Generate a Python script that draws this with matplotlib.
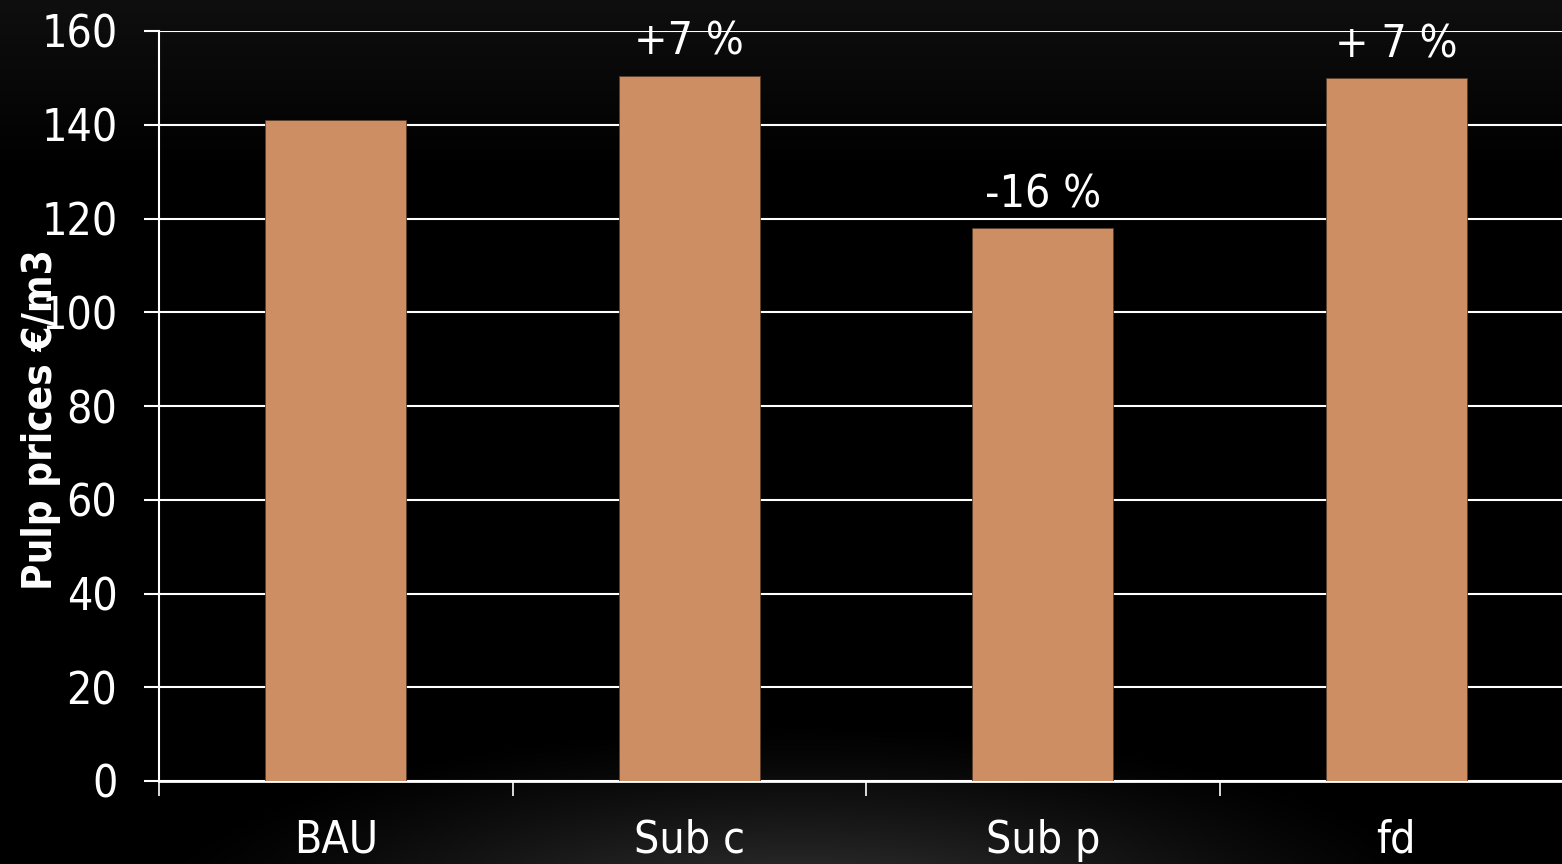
import numpy as np
import matplotlib
matplotlib.use("Agg")
import matplotlib.pyplot as plt
from matplotlib import font_manager as fm

categories = ["BAU", "Sub c", "Sub p", "fd"]
values = [141, 150.5, 118, 150]
labels = ["", "+7 %", "-16 %", "+ 7 %"]
yticks = [0, 20, 40, 60, 80, 100, 120, 140, 160]

# pick a narrow font if one is installed
names = {f.name for f in fm.fontManager.ttflist}
cond = [f for f in fm.fontManager.ttflist
        if f.name == "DejaVu Sans" and str(f.stretch) in ("condensed", "semi-condensed", "75", "87")]
if "Liberation Sans Narrow" in names:
    FAM, STRETCH = "Liberation Sans Narrow", "normal"
elif cond:
    FAM, STRETCH = "DejaVu Sans", "condensed"
else:
    FAM, STRETCH = "Liberation Sans", "normal"
plt.rcParams["font.family"] = [FAM, "DejaVu Sans"]
plt.rcParams["font.stretch"] = STRETCH

W, H = 1562, 864
fig = plt.figure(figsize=(W / 100, H / 100), dpi=100, facecolor="black")

# background gradient
bg = fig.add_axes([0, 0, 1, 1], zorder=-10)
yy, xx = np.mgrid[0:H, 0:W]
top = 15 * np.clip(1 - yy / 170.0, 0, 1)
r = np.sqrt(((xx - 800) / 680.0) ** 2 + ((yy - 930) / 210.0) ** 2)
bottom = 62 * np.clip(1 - r, 0, 1) ** 1.3
img = np.clip(top + bottom, 0, 255) / 255.0
bg.imshow(np.dstack([img, img, img]), aspect="auto", extent=[0, W, H, 0])
bg.set_axis_off()

ax = fig.add_axes([159 / W, (H - 781) / H, (1573 - 159) / W, (781 - 31) / H])
ax.set_facecolor("none")
x = np.arange(len(categories))
ax.bar(x, values, width=0.4, color="#CD8E64", edgecolor="#5a3e2a",
       linewidth=0.6, zorder=3)

FS = 32
for xi, v, lab in zip(x, values, labels):
    if lab:
        ax.annotate(lab, (xi, v), xytext=(0, 15), textcoords="offset points",
                    ha="center", va="baseline", color="white", fontsize=FS,
                    fontstretch=STRETCH, zorder=5)

ax.set_xlim(-0.5, 3.5)
ax.set_ylim(0, 160)
ax.set_yticks(yticks)
ax.yaxis.grid(True, color="white", linewidth=1.5, zorder=0)
ax.set_axisbelow(True)

ax.set_xticks(x)
ax.set_xticklabels(categories)
ax.set_xticks([-0.5, 0.5, 1.5, 2.5, 3.5], minor=True)
ax.tick_params(axis="x", which="major", length=0, pad=27, labelsize=FS,
               labelcolor="white")
ax.tick_params(axis="x", which="minor", length=11, width=1.2, color="white",
               direction="out")
ax.tick_params(axis="y", length=11, width=1.5, color="white", pad=19,
               labelsize=FS, labelcolor="white")
for t in ax.get_xticklabels() + ax.get_yticklabels():
    t.set_fontstretch(STRETCH)

for s in ["top", "right"]:
    ax.spines[s].set_visible(False)
ax.spines["left"].set_color("white")
ax.spines["left"].set_linewidth(1.5)
ax.spines["bottom"].set_color("white")
ax.spines["bottom"].set_linewidth(2)

fig.text(41 / W, 1 - 420 / H, "Pulp prices €/m3", rotation=90, ha="center",
         va="center", color="white", fontsize=29, fontweight="bold",
         fontstretch=STRETCH)

fig.savefig("out.png", dpi=100, facecolor="black")
